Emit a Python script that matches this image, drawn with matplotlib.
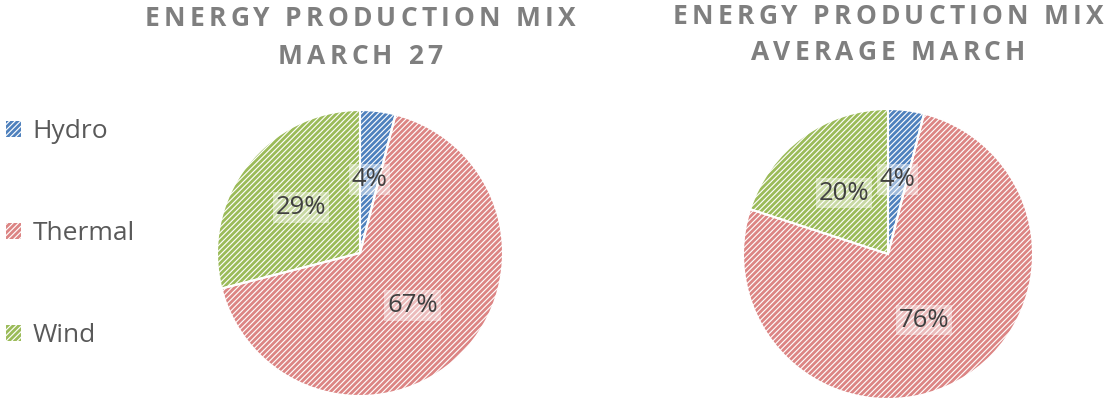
import matplotlib
matplotlib.use("Agg")
import matplotlib.pyplot as plt

# Energy production shares (%)
sources = ["Hydro", "Thermal", "Wind"]
share_march27 = [4, 67, 29]
share_avg_march = [4, 76, 20]
titles = [["ENERGY PRODUCTION MIX", "MARCH 27"],
          ["ENERGY PRODUCTION MIX", "AVERAGE MARCH"]]

colors = ["#4F81BD", "#DC8584", "#9BBB59"]

plt.rcParams["font.family"] = ["Open Sans", "DejaVu Sans"]
plt.rcParams["hatch.linewidth"] = 2.0

W, H = 1107, 400
fig = plt.figure(figsize=(W / 100, H / 100), dpi=100)
ax = fig.add_axes([0, 0, 1, 1])
ax.set_xlim(0, W)
ax.set_ylim(0, H)
ax.axis("off")


def spaced_text(xc, y, s, size, gap, **kw):
    # draw a string one letter at a time so the letters get extra tracking
    r = fig.canvas.get_renderer()
    prop = matplotlib.font_manager.FontProperties(family=plt.rcParams["font.family"],
                                                  size=size, weight="bold")
    widths = []
    for ch in s:
        if ch == " ":
            widths.append(size * 100 / 72 * 0.26)
        else:
            w, h, d = r.get_text_width_height_descent(ch, prop, ismath=False)
            widths.append(w)
    total = sum(widths) + gap * (len(s) - 1)
    x = xc - total / 2
    for ch, w in zip(s, widths):
        if ch != " ":
            ax.text(x, y, ch, fontproperties=prop, ha="left", va="center", **kw)
        x += w + gap


def draw_pie(values, cx, cy, r):
    wedges, _, autotexts = ax.pie(values, colors=["white"] * 3, startangle=90, counterclock=False,
                                  center=(cx, cy), radius=r, autopct="%1.0f%%", pctdistance=0.52,
                                  wedgeprops=dict(linewidth=0),
                                  textprops=dict(fontsize=18.5, color="#404040"))
    for w, c in zip(wedges, colors):
        w.set_edgecolor(c)
        w.set_hatch("//////")
    # white borders between slices
    ax.pie(values, colors=["none"] * 3, startangle=90, counterclock=False,
           center=(cx, cy), radius=r, wedgeprops=dict(edgecolor="white", linewidth=1.5))
    for t in autotexts:
        t.set_bbox(dict(facecolor="white", alpha=0.45, edgecolor="none", pad=2))
    return wedges


left = draw_pie(share_march27, 360, H - 253, 143)
draw_pie(share_avg_march, 888, H - 254, 145)
ax.set_xlim(0, W)
ax.set_ylim(0, H)
ax.set_aspect("auto")

spaced_text(360, H - 19, titles[0][0], 19, 4.2, color="#7F7F7F")
spaced_text(360, H - 56, titles[0][1], 19, 4.2, color="#7F7F7F")
spaced_text(888, H - 16, titles[1][0], 19, 4.2, color="#7F7F7F")
spaced_text(888, H - 53, titles[1][1], 19, 4.2, color="#7F7F7F")

ax.legend(left, sources, loc="upper left", bbox_to_anchor=(6, H - 119),
          bbox_transform=ax.transData, frameon=False, fontsize=19,
          labelcolor="#595959", handlelength=0.55, handleheight=0.55,
          handletextpad=0.45, labelspacing=2.92, borderpad=0, borderaxespad=0)

fig.savefig("out.png", dpi=100)
